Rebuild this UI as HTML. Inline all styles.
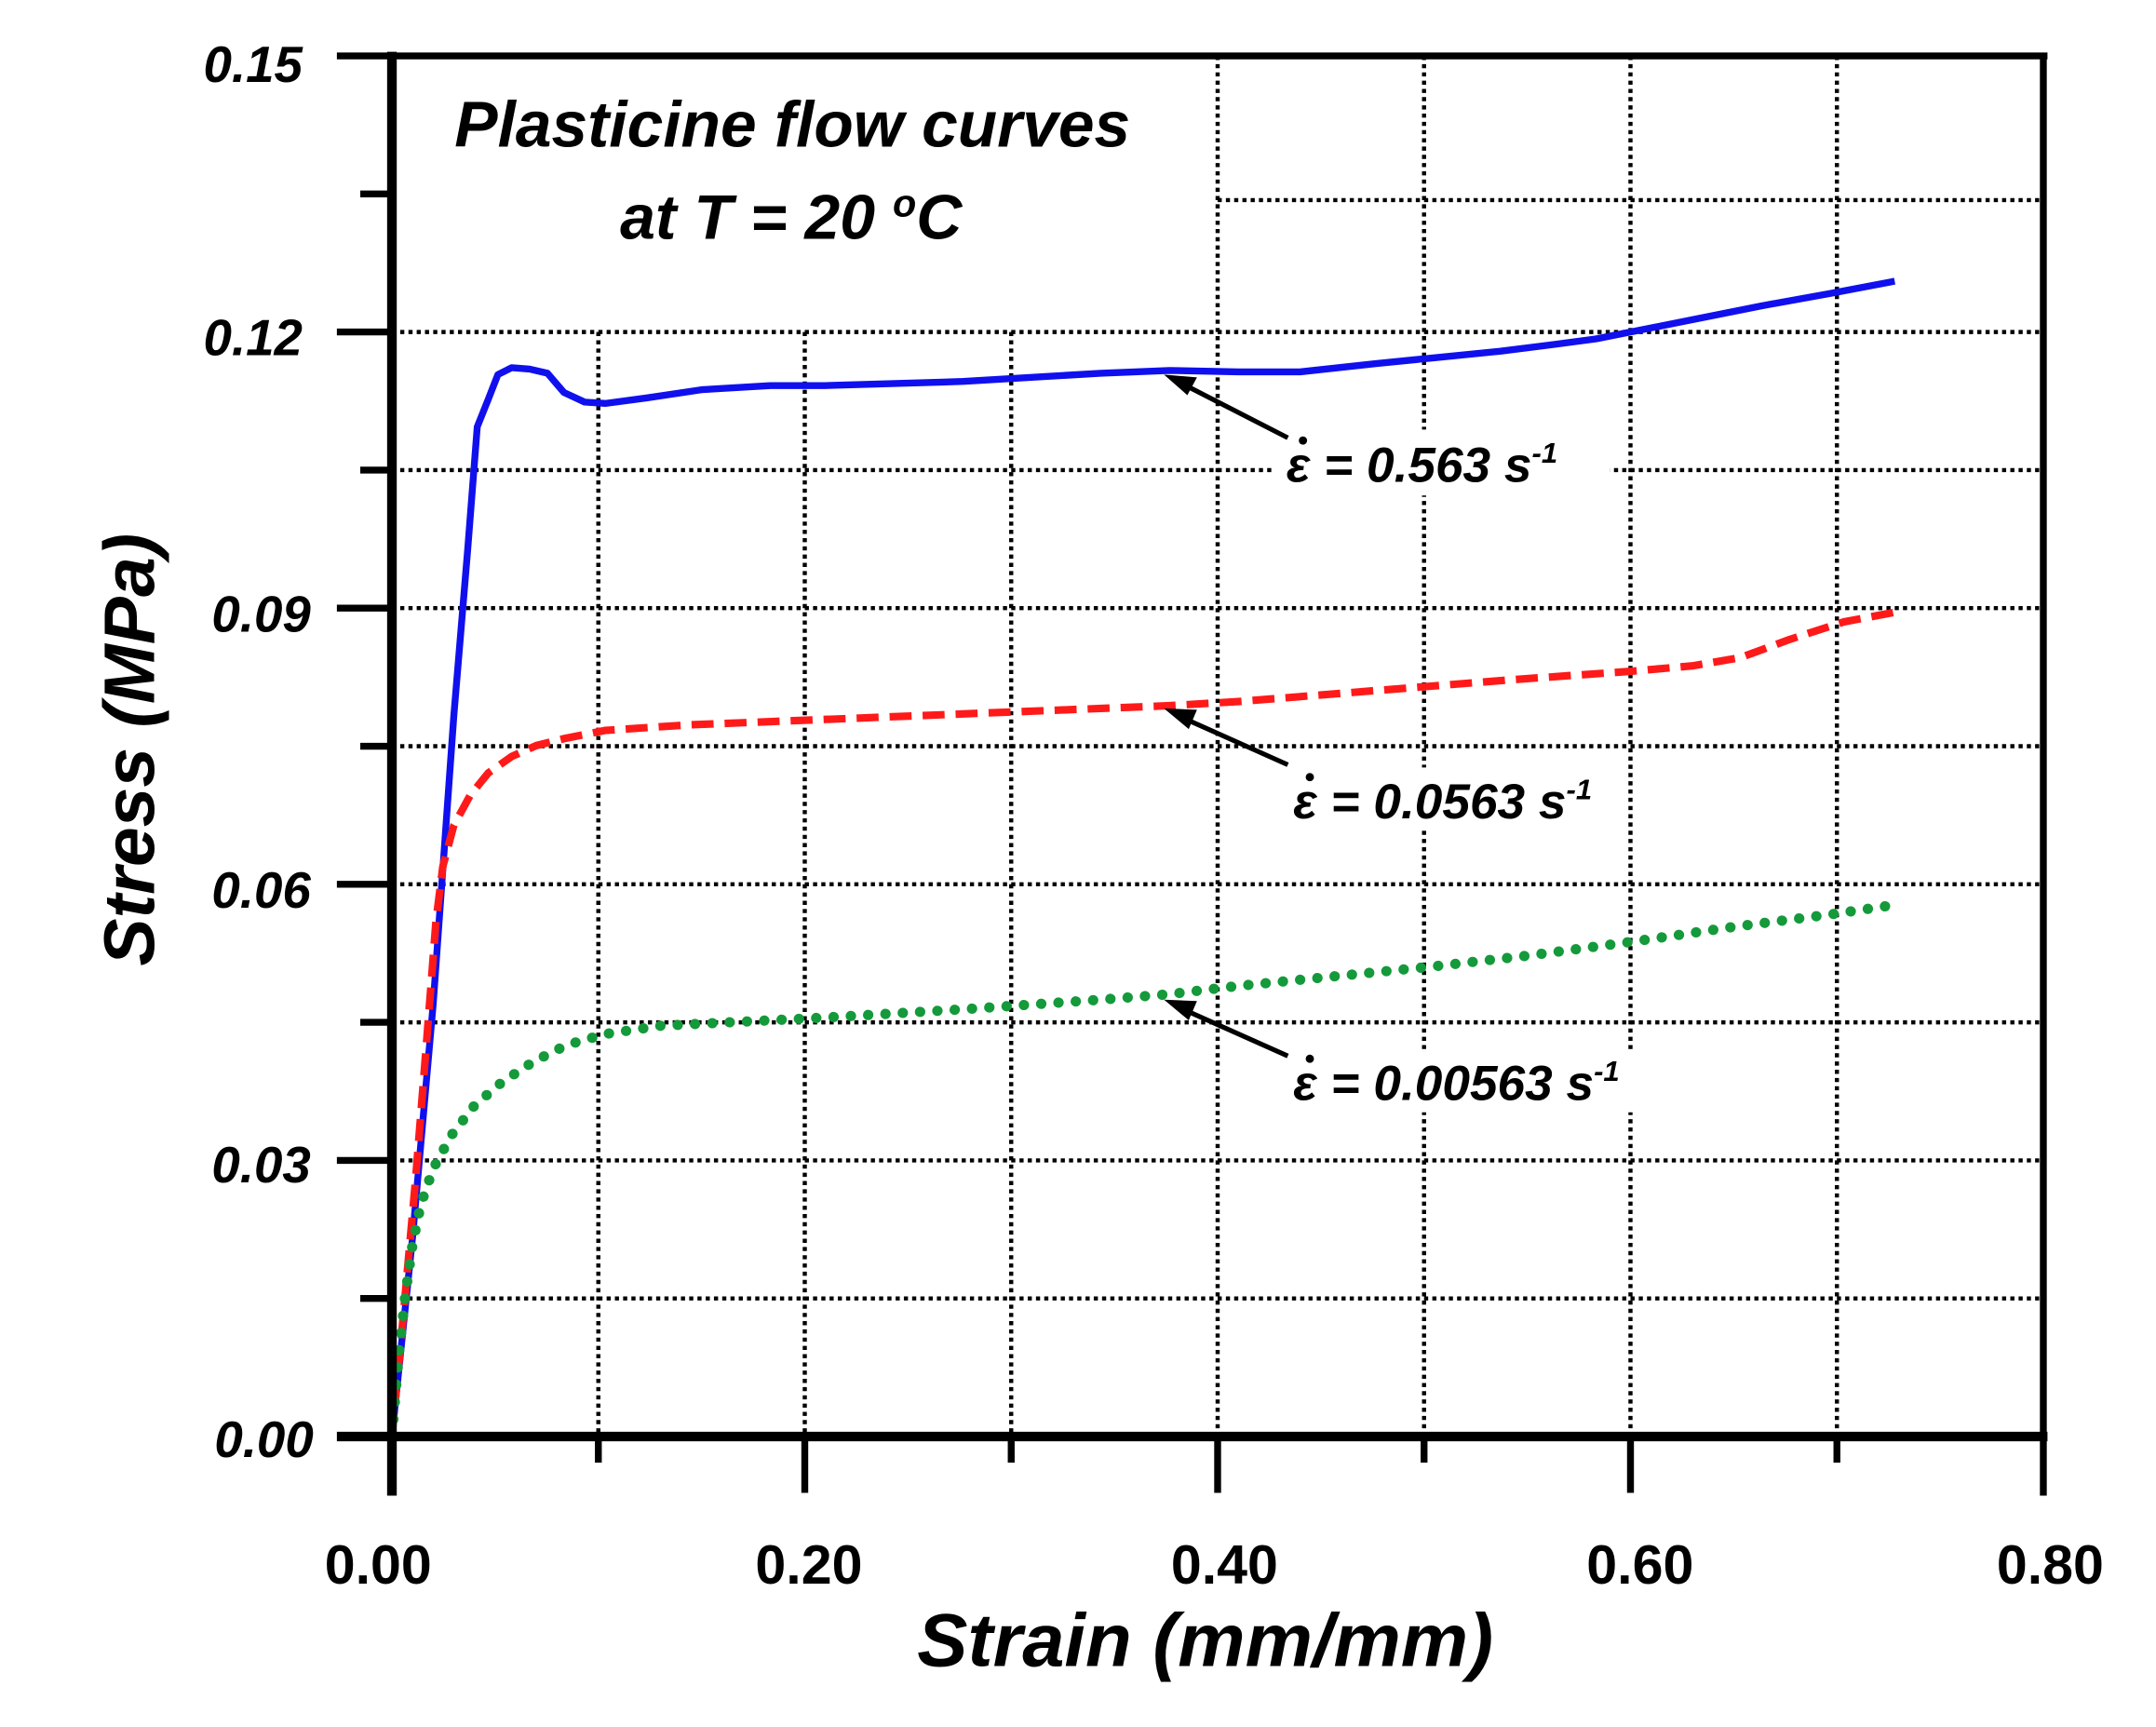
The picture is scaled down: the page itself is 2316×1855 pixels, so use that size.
<!DOCTYPE html>
<html><head><meta charset="utf-8"><style>
html,body{margin:0;padding:0;background:#fff;}
svg{display:block;}
text{font-family:"Liberation Sans",sans-serif;font-weight:bold;fill:#000;}
</style></head><body>
<svg width="2316" height="1855" xmlns="http://www.w3.org/2000/svg">
<rect width="2316" height="1855" fill="#fff"/>
<g transform="matrix(1.4783 0 0 1.4756 -0.3 1)">
<!-- grid -->
<g stroke="#000" stroke-width="3" stroke-dasharray="3 3" fill="none">
<line x1="435" y1="241" x2="435" y2="1045"/>
<line x1="585" y1="241" x2="585" y2="1045"/>
<line x1="735" y1="241" x2="735" y2="1045"/>
<line x1="885" y1="40" x2="885" y2="1045"/>
<line x1="1035" y1="40" x2="1035" y2="1045"/>
<line x1="1185" y1="40" x2="1185" y2="1045"/>
<line x1="1335" y1="40" x2="1335" y2="1045"/>
<line x1="885" y1="145" x2="1485" y2="145"/>
<line x1="285" y1="241" x2="1485" y2="241"/>
<line x1="285" y1="341.5" x2="1485" y2="341.5"/>
<line x1="285" y1="442" x2="1485" y2="442"/>
<line x1="285" y1="542.5" x2="1485" y2="542.5"/>
<line x1="285" y1="643" x2="1485" y2="643"/>
<line x1="285" y1="743.5" x2="1485" y2="743.5"/>
<line x1="285" y1="844" x2="1485" y2="844"/>
<line x1="285" y1="944.5" x2="1485" y2="944.5"/>
</g>
<!-- label backgrounds -->
<rect x="925" y="312" width="245" height="48" fill="#fff"/>
<rect x="930" y="558" width="250" height="46" fill="#fff"/>
<rect x="930" y="763" width="275" height="46" fill="#fff"/>
<!-- curves -->
<polyline fill="none" stroke="#1010ee" stroke-width="5" stroke-linejoin="round"
 points="285,1045 300,900 315,730 330,520 340,400 347,310 355,290 362,272 372,267 385,268 398,271 410,285 425,292 440,293 470,289 510,283 560,280 600,280 700,277 800,271 850,269 900,270 945,270 1000,264 1040,260 1090,255 1130,250 1160,246 1185,241 1230,232 1280,222 1330,213 1377,204"/>
<polyline fill="none" stroke="#ff1a1a" stroke-width="5.5" stroke-dasharray="16 8"
 points="285,1045 293,960 302,860 310,760 317,670 322,630 330,600 342,578 355,562 372,550 390,542 410,537 440,531 500,527 600,523 700,519 800,515 850,513 900,510 1000,502 1100,494 1185,488 1230,484 1265,478 1300,465 1340,452 1377,445"/>
<polyline fill="none" stroke="#149a3a" stroke-width="7.5" stroke-dasharray="0.1 12.5" stroke-linecap="round"
 points="285,1045 290,985 295,940 300,905 306,876 315,850 328,826 345,804 365,787 388,772 412,760 440,752 480,746 540,743 600,740 700,734 800,727 850,723 900,717 960,711 1040,703 1110,695 1185,685 1260,674 1330,665 1377,658"/>
<!-- arrows -->
<g stroke="#000" stroke-width="3.5" fill="#000">
<line x1="936" y1="318" x2="860" y2="279"/>
<polygon points="846,272 870,274 863,287" stroke="none"/>
<line x1="936" y1="556" x2="860" y2="522"/>
<polygon points="846,515 870,516 864,530" stroke="none"/>
<line x1="936" y1="768" x2="860" y2="734"/>
<polygon points="846,727 870,728 864,742" stroke="none"/>
</g>
<!-- frame -->
<g stroke="#000" fill="none" stroke-linecap="butt">
<line x1="285" y1="37" x2="285" y2="1088" stroke-width="7"/>
<line x1="245" y1="1045" x2="1488" y2="1045" stroke-width="7"/>
<line x1="245" y1="40" x2="1488" y2="40" stroke-width="5"/>
<line x1="1485" y1="40" x2="1485" y2="1088" stroke-width="5"/>
<g stroke-width="5">
<line x1="245" y1="241" x2="285" y2="241"/>
<line x1="245" y1="442" x2="285" y2="442"/>
<line x1="245" y1="643" x2="285" y2="643"/>
<line x1="245" y1="844" x2="285" y2="844"/>
<line x1="262" y1="140.5" x2="285" y2="140.5"/>
<line x1="262" y1="341.5" x2="285" y2="341.5"/>
<line x1="262" y1="542.5" x2="285" y2="542.5"/>
<line x1="262" y1="743.5" x2="285" y2="743.5"/>
<line x1="262" y1="944.5" x2="285" y2="944.5"/>
<line x1="585" y1="1045" x2="585" y2="1086"/>
<line x1="885" y1="1045" x2="885" y2="1086"/>
<line x1="1185" y1="1045" x2="1185" y2="1086"/>
<line x1="435" y1="1045" x2="435" y2="1064"/>
<line x1="735" y1="1045" x2="735" y2="1064"/>
<line x1="1035" y1="1045" x2="1035" y2="1064"/>
<line x1="1335" y1="1045" x2="1335" y2="1064"/>
</g>
</g>
<!-- tick labels -->
<g font-size="37" text-anchor="end" font-style="italic">
<text x="220" y="59">0.15</text>
<text x="220" y="258">0.12</text>
<text x="226" y="459">0.09</text>
<text x="226" y="660">0.06</text>
<text x="226" y="860">0.03</text>
<text x="228" y="1060">0.00</text>
</g>
<g font-size="40" text-anchor="middle">
<text x="275" y="1152">0.00</text>
<text x="588" y="1152">0.20</text>
<text x="890" y="1152">0.40</text>
<text x="1192" y="1152">0.60</text>
<text x="1490" y="1152">0.80</text>
</g>
<text x="876" y="1212" font-size="55" font-style="italic" text-anchor="middle">Strain (mm/mm)</text>
<text transform="translate(112,545) rotate(-90)" font-size="52" font-style="italic" text-anchor="middle">Stress (MPa)</text>
<text x="576" y="106" font-size="47" font-style="italic" text-anchor="middle">Plasticine flow curves</text>
<text x="575" y="173" font-size="46" font-style="italic" text-anchor="middle">at T = 20 <tspan font-size="28" dy="-16">o</tspan><tspan dy="16">C</tspan></text>
<g font-size="36" font-style="italic">
<text x="935" y="350">ε = 0.563 s<tspan font-size="21" dy="-14">-1</tspan></text>
<text x="940" y="595">ε = 0.0563 s<tspan font-size="21" dy="-14">-1</tspan></text>
<text x="940" y="800">ε = 0.00563 s<tspan font-size="21" dy="-14">-1</tspan></text>
</g>
<g fill="#000">
<circle cx="947" cy="320" r="3"/>
<circle cx="952" cy="565" r="3"/>
<circle cx="952" cy="770" r="3"/>
</g>
</g>
</svg>
</body></html>
